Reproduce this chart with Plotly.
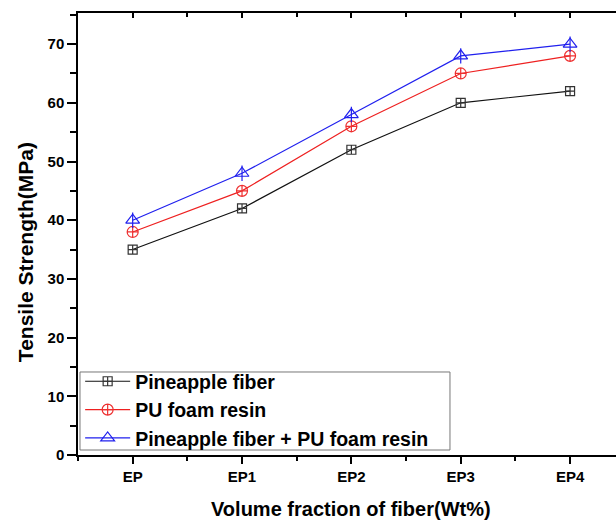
import plotly.graph_objects as go

categories = ["EP", "EP1", "EP2", "EP3", "EP4"]
pineapple = [35, 42, 52, 60, 62]
pu_foam = [38, 45, 56, 65, 68]
combined = [40, 48, 58, 68, 70]

xs = list(range(len(categories)))
FONT = "Liberation Sans, Arial, sans-serif"

fig = go.Figure()
fig.add_trace(go.Scatter(x=xs, y=pineapple, mode="lines+markers", name="Pineapple fiber",
                         line=dict(color="#111111", width=1.2),
                         marker=dict(symbol="square-cross-open", size=9, color="#333333", line=dict(width=1.2))))
fig.add_trace(go.Scatter(x=xs, y=pu_foam, mode="lines+markers", name="PU foam resin",
                         line=dict(color="#ee2020", width=1.2),
                         marker=dict(symbol="circle-cross-open", size=11, color="#ee3030", line=dict(width=1.2))))
fig.add_trace(go.Scatter(x=xs, y=combined, mode="lines+markers", name="Pineapple fiber + PU foam resin",
                         line=dict(color="#2020ee", width=1.2),
                         marker=dict(symbol="triangle-up-open", size=12, color="#2020ee", line=dict(width=1.2))))
fig.add_trace(go.Scatter(x=xs, y=combined, mode="markers", showlegend=False, hoverinfo="skip",
                         marker=dict(symbol="line-ns-open", size=11, color="#2020ee", line=dict(width=1.2, color="#2020ee"))))
# empty trace to show top mirrored axis with inside ticks
fig.add_trace(go.Scatter(x=[None], y=[None], xaxis="x2", showlegend=False, hoverinfo="skip"))

xr = [-0.5, 4.42]
fig.update_layout(
    width=616, height=522,
    margin=dict(l=78, r=0, t=13, b=67),
    plot_bgcolor="white", paper_bgcolor="white",
    font=dict(family=FONT, color="black"),
    showlegend=True,
    legend=dict(x=0.004, y=-0.007, xanchor="left", yanchor="bottom",
                bgcolor="rgba(0,0,0,0)", borderwidth=0, itemwidth=45,
                font=dict(size=19.5, weight="bold", family=FONT), tracegroupgap=0),
    shapes=[dict(type="rect", xref="paper", yref="paper", x0=0.0037, x1=0.6914, y0=0.0113, y1=0.1878,
                 line=dict(color="#777777", width=1), fillcolor="white", layer="below")],
    xaxis=dict(range=xr, tickmode="array", tickvals=xs, ticktext=categories,
               showline=True, linecolor="black", linewidth=1.5, mirror=True,
               ticks="outside", ticklen=7, tickwidth=1.5, tickcolor="black",
               minor=dict(tickmode="linear", tick0=0.5, dtick=1, ticks="outside", ticklen=4, tickwidth=1.5, tickcolor="black"),
               showgrid=False, zeroline=False,
               tickfont=dict(size=15, weight="bold", family=FONT)),
    xaxis2=dict(range=xr, overlaying="x", side="top", anchor="y",
                tickmode="array", tickvals=xs, showticklabels=False,
                ticks="inside", ticklen=5, tickwidth=1.5, tickcolor="black",
                minor=dict(tickmode="linear", tick0=0.5, dtick=1, ticks="inside", ticklen=4, tickwidth=1.5, tickcolor="black"),
                showgrid=False, zeroline=False, showline=False),
    yaxis=dict(range=[0, 75.3], tickmode="linear", tick0=0, dtick=10,
               showline=True, linecolor="black", linewidth=1.5, mirror=False,
               ticks="outside", ticklen=9, tickwidth=1.5, tickcolor="black",
               minor=dict(tickmode="linear", tick0=5, dtick=10, ticks="outside", ticklen=6, tickwidth=1.5, tickcolor="black"),
               showgrid=False, zeroline=False,
               tickfont=dict(size=15, weight="bold", family=FONT)),
    annotations=[
        dict(text="Volume fraction of fiber(Wt%)", x=2, xref="x", y=-0.122, yref="paper",
             yanchor="middle", xanchor="center", showarrow=False,
             font=dict(size=20, weight="bold", family=FONT)),
        dict(text="Tensile Strength(MPa)", x=-0.0985, xref="paper", y=0.459, yref="paper",
             textangle=-90, yanchor="middle", xanchor="center", showarrow=False,
             font=dict(size=21, weight="bold", family=FONT)),
    ],
)

fig.write_html("out.html", config={"displayModeBar": False},
               post_script="document.body.style.margin='0';document.body.style.overflow='hidden';")
